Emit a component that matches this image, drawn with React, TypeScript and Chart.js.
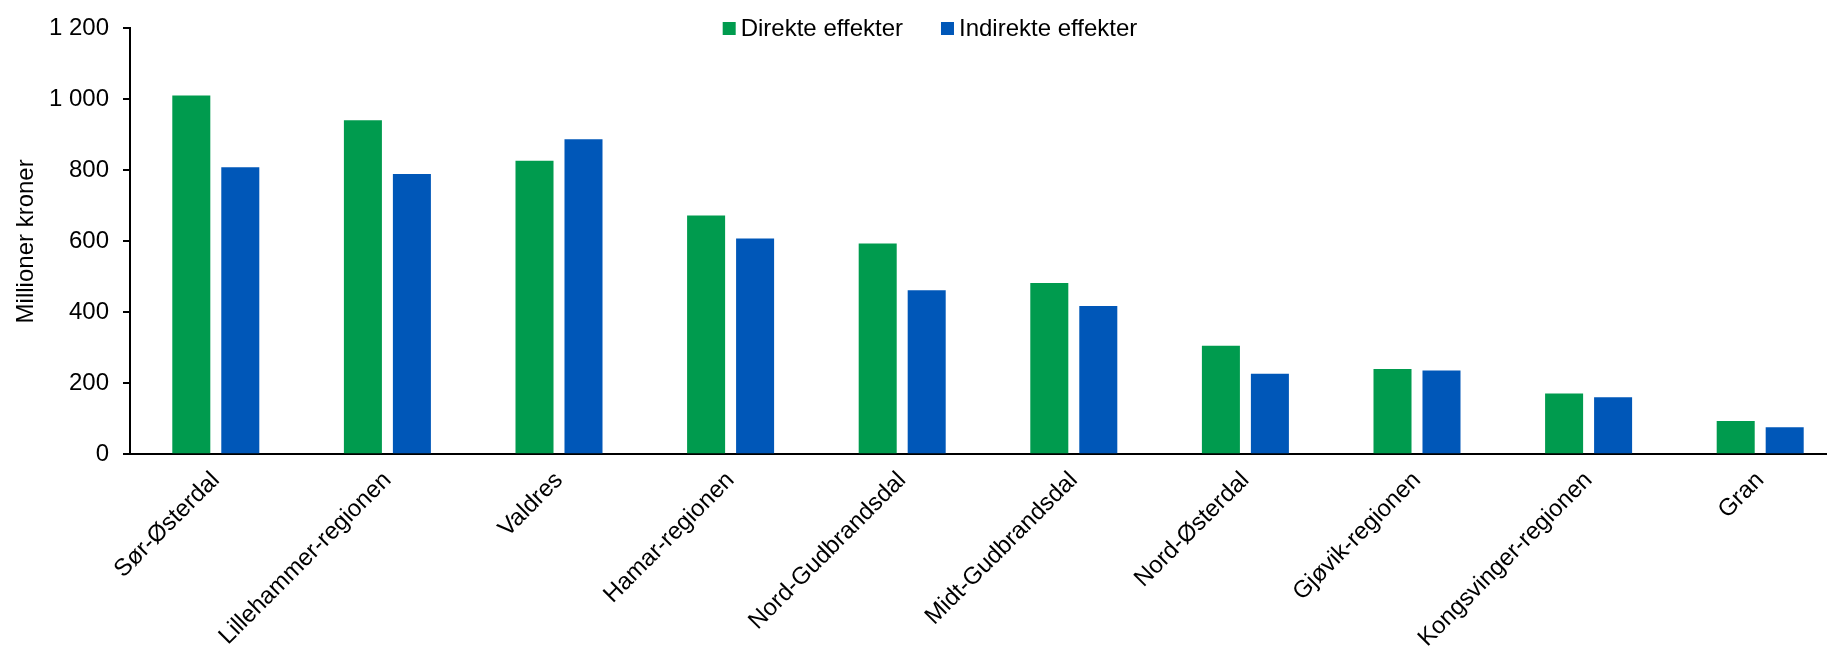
import React, { useEffect, useRef } from "react";
import { Chart, registerables } from "chart.js";

Chart.register(...registerables);

const categories = [
  "Sør-Østerdal",
  "Lillehammer-regionen",
  "Valdres",
  "Hamar-regionen",
  "Nord-Gudbrandsdal",
  "Midt-Gudbrandsdal",
  "Nord-Østerdal",
  "Gjøvik-regionen",
  "Kongsvinger-regionen",
  "Gran",
];
const direkte = [1011, 941, 827, 673, 594, 483, 306, 240, 171, 94];
const indirekte = [809, 790, 888, 608, 462, 418, 227, 236, 161, 76];
const seriesNames = ["Direkte effekter", "Indirekte effekter"];
const seriesColors = ["#009B4E", "#0057B8"];
const yTitle = "Millioner kroner";

const FONT = "'Liberation Sans', Arial, sans-serif";
const FS = 24;

const fmt = (v: number) =>
  String(Math.round(v)).replace(/\B(?=(\d{3})+(?!\d))/g, " ");

const legendPlugin = {
  id: "customLegend",
  afterDraw(chart: any) {
    const ctx = chart.ctx;
    ctx.save();
    ctx.font = `${FS}px ${FONT}`;
    ctx.textBaseline = "middle";
    ctx.textAlign = "left";
    const box = 13;
    const gapBoxText = 5;
    const gapItems = 38;
    const items = chart.data.datasets.map((d: any) => ({
      label: d.label,
      color: d.backgroundColor,
      w: box + gapBoxText + ctx.measureText(d.label).width,
    }));
    const total =
      items.reduce((s: number, it: any) => s + it.w, 0) +
      gapItems * (items.length - 1);
    let x = 930 - total / 2;
    const cy = 28.5;
    items.forEach((it: any) => {
      ctx.fillStyle = it.color;
      ctx.fillRect(x, cy - box / 2, box, box);
      ctx.fillStyle = "#000";
      ctx.fillText(it.label, x + box + gapBoxText, cy + 1);
      x += it.w + gapItems;
    });
    ctx.restore();
  },
};

export default function App() {
  const ref = useRef<HTMLCanvasElement>(null);
  useEffect(() => {
    document.body.style.margin = "0";
    const canvas = ref.current!;
    const chart = new Chart(canvas, {
      type: "bar",
      data: {
        labels: categories,
        datasets: [
          {
            label: seriesNames[0],
            data: direkte,
            backgroundColor: seriesColors[0],
            categoryPercentage: 0.571,
            barPercentage: 0.776,
          },
          {
            label: seriesNames[1],
            data: indirekte,
            backgroundColor: seriesColors[1],
            categoryPercentage: 0.571,
            barPercentage: 0.776,
          },
        ],
      },
      options: {
        responsive: false,
        animation: false,
        devicePixelRatio: 1,
        layout: { padding: { top: 23, right: 14, left: 0, bottom: 0 } },
        plugins: {
          legend: { display: false },
          tooltip: { enabled: false },
          title: { display: false },
        },
        scales: {
          x: {
            grid: { display: false },
            border: { display: true, color: "#000", width: 2 },
            ticks: {
              color: "#000",
              font: { family: FONT, size: FS },
              maxRotation: 45,
              minRotation: 45,
              autoSkip: false,
              padding: 4,
            },
            afterFit: (s: any) => {
              s.height = 648 - 454.3;
            },
          },
          y: {
            min: 0,
            max: 1200,
            ticks: {
              stepSize: 200,
              color: "#000",
              font: { family: FONT, size: FS },
              padding: 14,
              callback: (v: any) => fmt(Number(v)),
            },
            grid: {
              drawOnChartArea: false,
              drawTicks: true,
              tickLength: 7,
              color: "#000",
              lineWidth: 2,
            },
            border: { display: true, color: "#000", width: 2 },
            title: {
              display: true,
              text: yTitle,
              color: "#000",
              font: { family: FONT, size: FS },
              padding: { top: 12, bottom: 0 },
            },
            afterFit: (s: any) => {
              s.width = 130;
            },
          },
        },
      },
      plugins: [legendPlugin],
    });
    return () => chart.destroy();
  }, []);
  return (
    <div
      style={{
        position: "fixed",
        left: 0,
        top: 0,
        width: 1827,
        height: 648,
        overflow: "hidden",
        background: "#fff",
      }}
    >
      <canvas ref={ref} width={1860} height={648} style={{ width: 1860, height: 648 }} />
    </div>
  );
}
